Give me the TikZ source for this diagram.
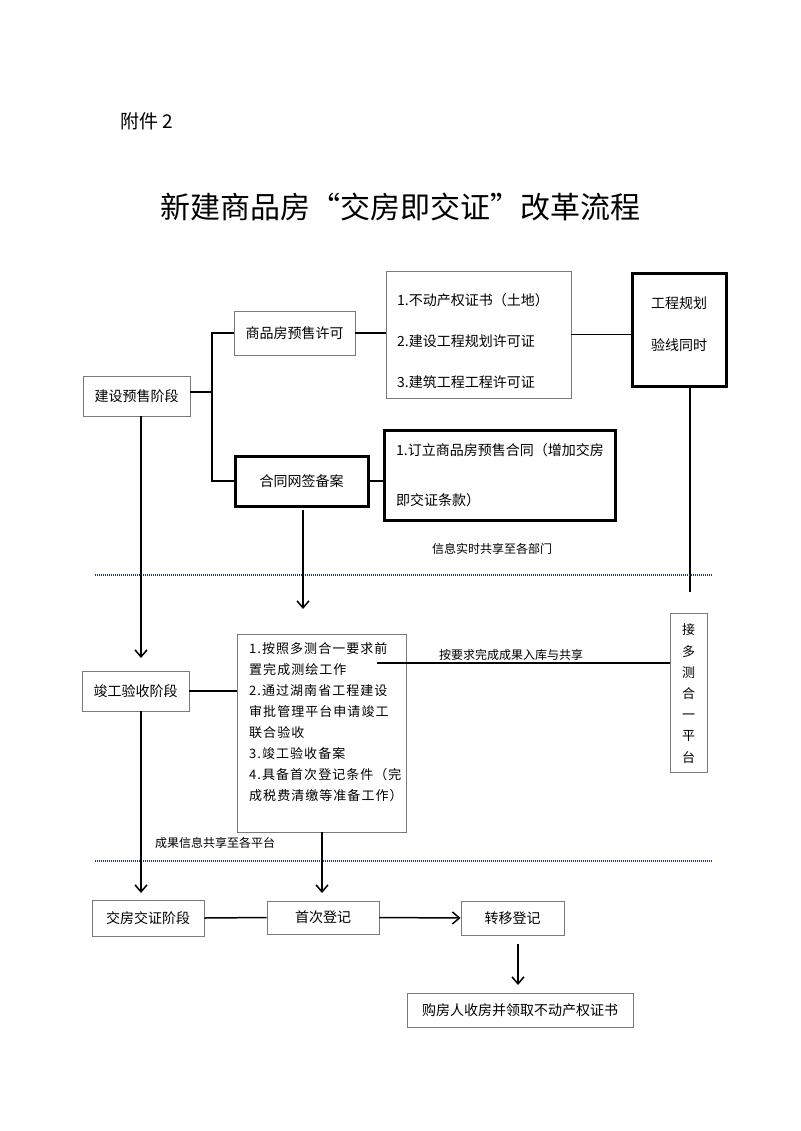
\documentclass[tikz,border=0pt]{standalone}
\usepackage{fontspec}
\setmainfont{Noto Sans CJK SC}
\newfontfamily\spaced[LetterSpace=8]{Noto Sans CJK SC}
\usetikzlibrary{arrows.meta}
\definecolor{boxgray}{HTML}{7A7A7A}
\definecolor{dotblue}{HTML}{1F3A5F}
\begin{document}
\begin{tikzpicture}[x=1pt,y=-1pt,
  thinbox/.style={draw=boxgray, line width=0.9pt, inner sep=0pt, font=\fontsize{14}{16}\selectfont},
  thickbox/.style={draw=black, line width=3pt, inner sep=0pt, font=\fontsize{14}{16}\selectfont},
  conn/.style={line width=1.5pt},
  arr/.style={line width=1.5pt, -{Straight Barb[length=7pt,width=12pt,line width=1.5pt]}},
  dotline/.style={draw=dotblue, line width=1.6pt, dash pattern=on 1pt off 1pt},
  small/.style={font=\fontsize{12}{14}\selectfont, inner sep=0pt}]
\useasboundingbox (0,0) rectangle (800,1131);
\fill[white] (0,0) rectangle (800,1131);

% headings
\node[anchor=west, inner sep=0pt, font=\fontsize{19}{21}\selectfont] (fj) at (120,121) {附件 2};
\node[inner sep=0pt, font=\fontsize{30}{34}\selectfont] (title) at (400,207) {新建商品房“交房即交证”改革流程};

% top section
\node[thinbox, minimum width=107pt, minimum height=40pt] (jsys) at (136.5,396) {\raisebox{-4pt}{建设预售阶段}};
\node[thinbox, minimum width=121pt, minimum height=44pt] (spf) at (294.5,333) {\raisebox{-3pt}{商品房预售许可}};
\node[thickbox, minimum width=133pt, minimum height=50pt] (htwq) at (301.5,481) {\raisebox{-3pt}{合同网签备案}};
\node[thinbox, minimum width=185pt, minimum height=127pt] (list1) at (478.5,334.5) {};
\node[anchor=west, inner sep=0pt, font=\fontsize{14}{16}\selectfont] (l1a) at (397,300) {1.不动产权证书（土地）};
\node[anchor=west, inner sep=0pt, font=\fontsize{14}{16}\selectfont] (l1b) at (397,341) {2.建设工程规划许可证};
\node[anchor=west, inner sep=0pt, font=\fontsize{14}{16}\selectfont] (l1c) at (397,382) {3.建筑工程工程许可证};
\node[thickbox, minimum width=94pt, minimum height=112pt] (gcgh) at (679,330) {};
\node[inner sep=0pt, font=\fontsize{14}{16}\selectfont] (g1) at (679,303) {工程规划};
\node[inner sep=0pt, font=\fontsize{14}{16}\selectfont] (g2) at (679,345) {验线同时};
\node[thickbox, minimum width=231pt, minimum height=90pt] (dlht) at (499.5,475) {};
\node[anchor=west, inner sep=0pt, font=\fontsize{14}{16}\selectfont] (d1) at (396,450) {1.订立商品房预售合同（增加交房};
\node[anchor=west, inner sep=0pt, font=\fontsize{14}{16}\selectfont] (d2) at (396,500) {即交证条款）};
\node[small] (info1) at (492,549) {信息实时共享至各部门};

\coordinate (sp) at (212,392);
\draw[conn] (jsys.east |- sp) -- (sp);
\draw[conn] (spf.west) -| (sp) |- (htwq.west);
\draw[conn] (spf.east) -- (spf.east -| list1.west);
\draw[conn] (list1.east) -- (list1.east -| gcgh.west);
\draw[conn] (htwq.east) -- (htwq.east -| dlht.west);
\coordinate (gtop) at (690,386);
\coordinate (gend) at (690,592);
\draw[line width=1.2pt] (gtop) -- (gend);

% dotted separators
\coordinate (d1a) at (95,575); \coordinate (d1b) at (712,575);
\draw[dotline] (d1a) -- (d1b);
\coordinate (d2a) at (95,861); \coordinate (d2b) at (712,861);
\draw[dotline] (d2a) -- (d2b);

% middle section
\node[thinbox, minimum width=107pt, minimum height=40pt] (jgys) at (135.5,691) {\raisebox{-4pt}{竣工验收阶段}};
\node[thinbox, minimum width=169pt, minimum height=198pt] (big) at (321.5,733) {};
\node[anchor=north west, inner sep=0pt, align=left, font=\spaced\fontsize{13}{21}\selectfont] (bigtext) at (249,642)
 {1.按照多测合一要求前\\置完成测绘工作\\2.通过湖南省工程建设\\审批管理平台申请竣工\\联合验收\\3.竣工验收备案\\4.具备首次登记条件（完\\成税费清缴等准备工作）};
\node[thinbox, minimum width=37pt, minimum height=159pt] (jdc) at (688.5,692.5) {};
\node[inner sep=0pt, align=center, font=\fontsize{13}{21.2}\selectfont] (jdct) at (688.5,693.5) {接\\多\\测\\合\\一\\平\\台};
\coordinate (bl) at (377,663);
\draw[conn] (bl) -- (bl -| jdc.west);
\node[small] (share) at (511,655) {按要求完成成果入库与共享};
\node[small] (info2) at (215,843) {成果信息共享至各平台};

\coordinate (a1s) at (141,416);
\coordinate (a1e) at (141,658);
\draw[arr] (a1s) -- (a1e);
\coordinate (a2s) at (303,510);
\coordinate (a2e) at (303,609);
\draw[arr] (a2s) -- (a2e);
\draw[conn] (jgys.east) -- (jgys.east -| big.west);

% bottom section
\node[thinbox, minimum width=112pt, minimum height=36pt] (jfjz) at (148,918) {交房交证阶段};
\node[thinbox, minimum width=112pt, minimum height=33pt] (scdj) at (323,917.5) {首次登记};
\node[thinbox, minimum width=103pt, minimum height=34pt] (zydj) at (512.5,918) {转移登记};
\node[thinbox, minimum width=226pt, minimum height=34pt] (gfr) at (520,1010) {购房人收房并领取不动产权证书};

\coordinate (a3s) at (141,711);
\coordinate (a3e) at (141,893);
\draw[arr] (a3s) -- (a3e);
\coordinate (a4e) at (322,893);
\draw[arr] (big.south -| a4e) -- (a4e);
\draw[conn] (jfjz.east) -- (scdj.west);
\draw[arr] (scdj.east) -- (zydj.west);
\coordinate (a5s) at (518,944);
\coordinate (a5e) at (518,985);
\draw[arr] (a5s) -- (a5e);
\end{tikzpicture}
\end{document}
